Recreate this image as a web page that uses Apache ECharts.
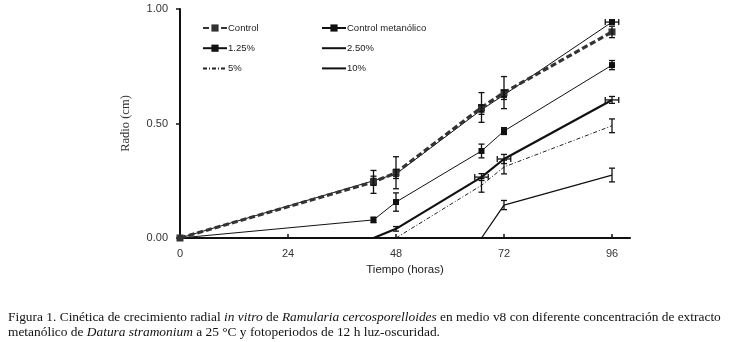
<!DOCTYPE html>
<html>
<head>
<meta charset="utf-8">
<script src="https://cdn.jsdelivr.net/npm/echarts@6/dist/echarts.min.js"></script>
<style>
  html, body { margin: 0; padding: 0; background: #fff; }
  #chart { width: 729px; height: 342px; }
</style>
</head>
<body>
<div id="chart"></div>
<script>
// tiempos de medición (horas)
var horas = [0, 43, 48, 67, 72, 96];
var xTicks = [0, 24, 48, 72, 96];

var control = [0, 0.245, 0.285, 0.57, 0.635, 0.90];
var controlMet = [0, 0.25, 0.28, 0.56, 0.625, 0.943];
var p125 = [0, 0.079, 0.157, 0.38, 0.467, 0.755];
var p250 = [0, 0, 0.04, 0.266, 0.345, 0.603];
var p5 = [0, 0, 0, 0.23, 0.31, 0.49];
var p10 = [0, 0, 0, 0, 0.144, 0.275];

// error estándar (vertical)
var errControl = [0, 0.05, 0.07, 0.065, 0.07, 0.025];
var errControlMet = [0, 0.02, 0.02, 0.02, 0.02, 0.01];
var errP125 = [0, 0.012, 0.04, 0.03, 0.015, 0.02];
var errP250 = [0, 0, 0.01, 0.015, 0.02, 0.015];
var errP5 = [0, 0, 0, 0.03, 0.03, 0.03];
var errP10 = [0, 0, 0, 0, 0.02, 0.03];
// error horizontal (horas)
var hErrControlMet = [0, 0, 0, 0, 0, 1.5];
var hErrP250 = [0, 0, 0, 1.5, 1.5, 1.5];

function pairs(vals) {
    return horas.map(function (h, i) { return [h, vals[i]]; });
}

function errSeries(name, vals, errs, herrs) {
    var data = horas.map(function (h, i) {
        return [h, vals[i], errs[i], herrs ? herrs[i] : 0];
    }).filter(function (d) { return d[2] > 0 || d[3] > 0; });
    return {
        type: 'custom',
        name: name + ' err',
        silent: true,
        z: 5,
        renderItem: function (params, api) {
            var x = api.value(0), y = api.value(1), e = api.value(2), he = api.value(3);
            var children = [];
            var st = { stroke: '#111', lineWidth: 1.3 };
            if (e > 0) {
                var top = api.coord([x, y + e]);
                var bot = api.coord([x, y - e]);
                children.push({ type: 'line', shape: { x1: top[0], y1: top[1], x2: bot[0], y2: bot[1] }, style: st });
                children.push({ type: 'line', shape: { x1: top[0] - 3, y1: top[1], x2: top[0] + 3, y2: top[1] }, style: st });
                children.push({ type: 'line', shape: { x1: bot[0] - 3, y1: bot[1], x2: bot[0] + 3, y2: bot[1] }, style: st });
            }
            if (he > 0) {
                var l = api.coord([x - he, y]);
                var r = api.coord([x + he, y]);
                children.push({ type: 'line', shape: { x1: l[0], y1: l[1], x2: r[0], y2: r[1] }, style: st });
                children.push({ type: 'line', shape: { x1: l[0], y1: l[1] - 3, x2: l[0], y2: l[1] + 3 }, style: st });
                children.push({ type: 'line', shape: { x1: r[0], y1: r[1] - 3, x2: r[0], y2: r[1] + 3 }, style: st });
            }
            return { type: 'group', children: children };
        },
        data: data
    };
}

var noMark = { opacity: 0 };
var legendBase = {
    orient: 'vertical',
    top: 18,
    itemWidth: 24,
    itemHeight: 9,
    itemGap: 10.2,
    textStyle: { fontSize: 9.5, color: '#222', padding: [0, 0, 0, -4] }
};

var chart = echarts.init(document.getElementById('chart'));
var option = {
    animation: false,
    backgroundColor: '#fff',
    textStyle: { fontFamily: 'Liberation Sans, Arial, sans-serif' },
    grid: { left: 180, right: 99, top: 9, bottom: 104 },
    legend: [
        Object.assign({}, legendBase, {
            left: 197,
            data: ['Control', '1.25%', { name: '5%', itemStyle: noMark }]
        }),
        Object.assign({}, legendBase, {
            left: 316,
            data: ['Control metanólico', { name: '2.50%', itemStyle: noMark }, { name: '10%', itemStyle: noMark }]
        })
    ],
    xAxis: {
        type: 'value',
        min: 0,
        max: 100,
        name: 'Tiempo (horas)',
        nameLocation: 'middle',
        nameGap: 26,
        nameTextStyle: { fontSize: 11.5, color: '#222' },
        axisLine: { lineStyle: { color: '#111', width: 2 } },
        axisTick: { customValues: xTicks, inside: true, length: 4, lineStyle: { color: '#111', width: 1.5 } },
        axisLabel: { customValues: xTicks, fontSize: 11, color: '#333', margin: 10 },
        splitLine: { show: false }
    },
    yAxis: {
        type: 'value',
        min: 0,
        max: 1,
        interval: 0.5,
        name: 'Radio (cm)',
        nameLocation: 'middle',
        nameGap: 48,
        nameTextStyle: { fontSize: 12.5, color: '#333', fontFamily: 'Liberation Serif, Times New Roman, serif' },
        axisLine: { show: true, lineStyle: { color: '#111', width: 2 } },
        axisTick: { show: true, length: 4, lineStyle: { color: '#111', width: 1.5 } },
        axisLabel: { fontSize: 11, color: '#333', margin: 12, formatter: function (v) { return v.toFixed(2); } },
        splitLine: { show: false }
    },
    series: [{
        name: 'Control',
        type: 'line',
        data: pairs(control),
        symbol: 'rect',
        symbolSize: 7,
        z: 4,
        itemStyle: { color: '#333' },
        lineStyle: { color: '#333', width: 3.2, type: [6, 3] }
    }, {
        name: 'Control metanólico',
        type: 'line',
        data: pairs(controlMet),
        symbol: 'rect',
        symbolSize: 6,
        z: 3,
        itemStyle: { color: '#111' },
        lineStyle: { color: '#111', width: 1 }
    }, {
        name: '1.25%',
        type: 'line',
        data: pairs(p125),
        symbol: 'rect',
        symbolSize: 6,
        itemStyle: { color: '#111' },
        lineStyle: { color: '#111', width: 1 }
    }, {
        name: '2.50%',
        type: 'line',
        data: pairs(p250),
        symbol: 'none',
        itemStyle: { color: '#111' },
        lineStyle: { color: '#111', width: 2.2 }
    }, {
        name: '5%',
        type: 'line',
        data: pairs(p5),
        symbol: 'none',
        itemStyle: { color: '#222' },
        lineStyle: { color: '#222', width: 1, type: [4, 2, 1, 2] }
    }, {
        name: '10%',
        type: 'line',
        data: pairs(p10),
        symbol: 'none',
        itemStyle: { color: '#111' },
        lineStyle: { color: '#111', width: 1.3 }
    },
        errSeries('Control', control, errControl),
        errSeries('Control metanólico', controlMet, errControlMet, hErrControlMet),
        errSeries('1.25%', p125, errP125),
        errSeries('2.50%', p250, errP250, hErrP250),
        errSeries('5%', p5, errP5),
        errSeries('10%', p10, errP10)
    ],
    graphic: [{
        type: 'text',
        left: 8,
        top: 311,
        style: {
            text: '{n|Figura 1. Cinética de crecimiento radial }{i|in vitro}{n| de }{i|Ramularia cercosporelloides}{n| en medio v8 con diferente concentración de extracto}',
            rich: {
                n: { fontFamily: 'Liberation Serif, Times New Roman, serif', fontSize: 13.4, fill: '#111' },
                i: { fontFamily: 'Liberation Serif, Times New Roman, serif', fontSize: 13.4, fontStyle: 'italic', fill: '#111' }
            }
        }
    }, {
        type: 'text',
        left: 8,
        top: 326,
        style: {
            text: '{n|metanólico de }{i|Datura stramonium}{n| a 25 °C y fotoperiodos de 12 h luz-oscuridad.}',
            rich: {
                n: { fontFamily: 'Liberation Serif, Times New Roman, serif', fontSize: 13.4, fill: '#111' },
                i: { fontFamily: 'Liberation Serif, Times New Roman, serif', fontSize: 13.4, fontStyle: 'italic', fill: '#111' }
            }
        }
    }]
};
chart.setOption(option);
</script>
</body>
</html>
